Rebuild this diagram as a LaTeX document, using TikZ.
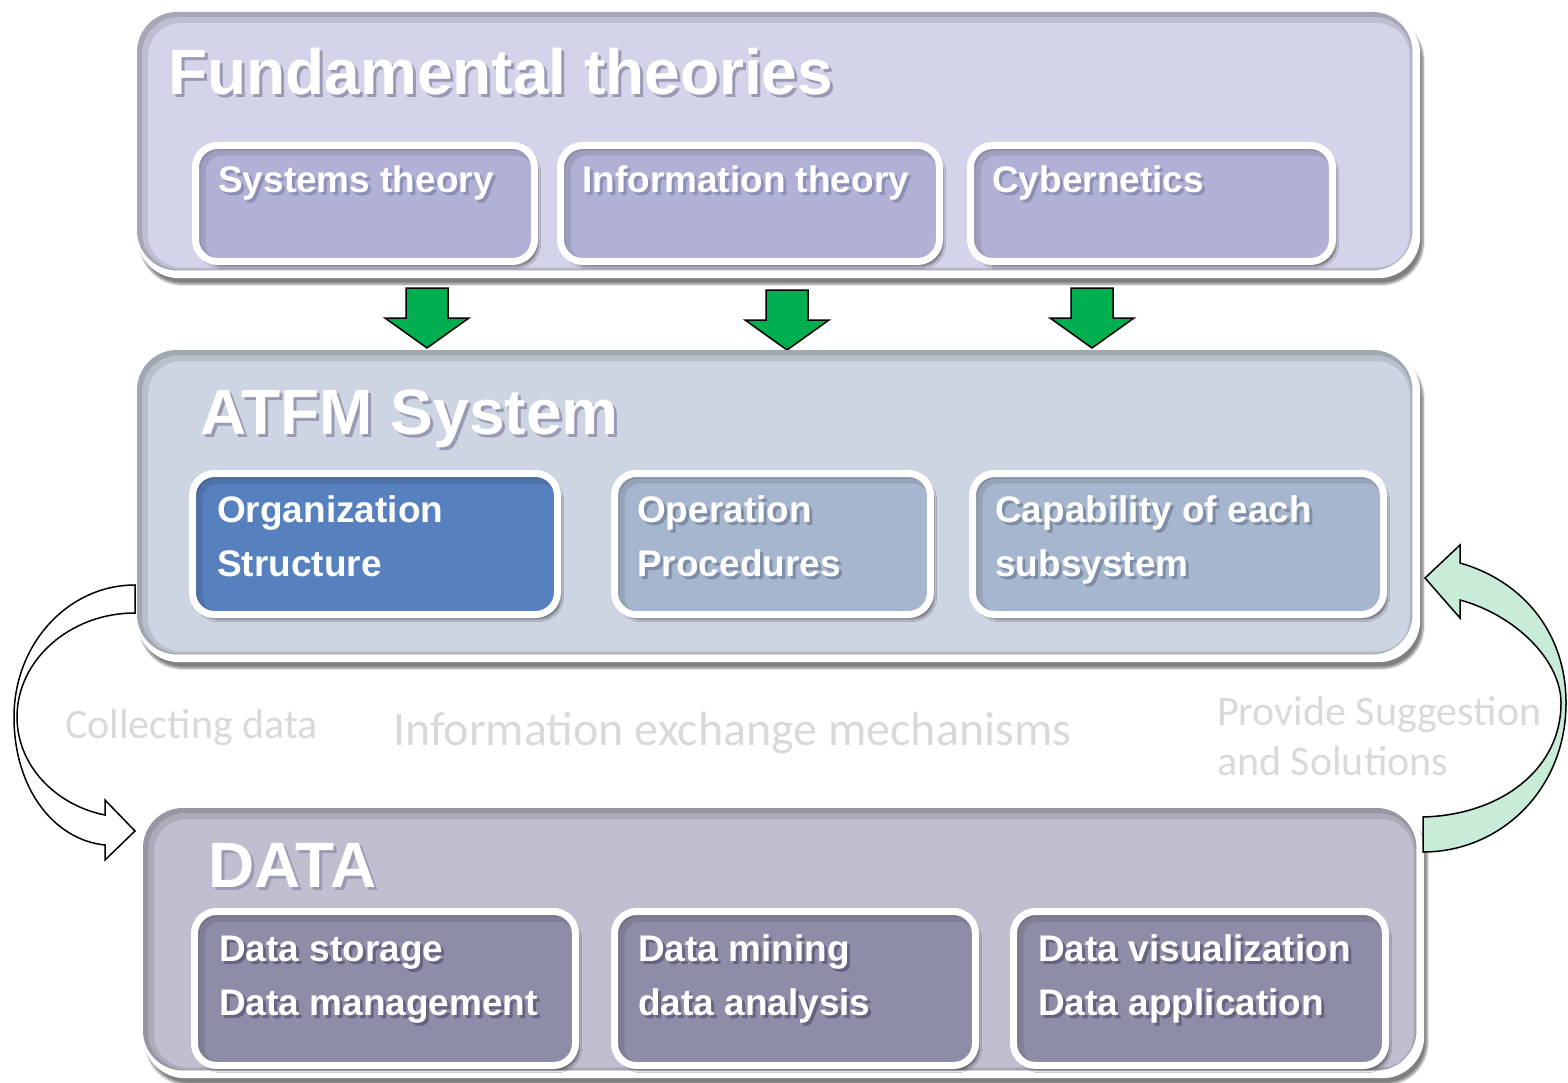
\documentclass[tikz,border=0pt]{standalone}
\usepackage{fontspec}
\setmainfont{Liberation Sans}
\newfontfamily\calfont{Carlito}
\usetikzlibrary{shadows.blur}
\definecolor{fundbg}{HTML}{D3D4E9}
\definecolor{fundin}{HTML}{B0B1D5}
\definecolor{fundsh}{HTML}{8E8FB4}
\definecolor{atfmbg}{HTML}{CDD5E2}
\definecolor{atfmin}{HTML}{A6B6CE}
\definecolor{atfmsh}{HTML}{7D8DA6}
\definecolor{orgblue}{HTML}{5680BE}
\definecolor{databg}{HTML}{C0BFCF}
\definecolor{datain}{HTML}{8E8DA8}
\definecolor{datash}{HTML}{646380}
\definecolor{titsh}{HTML}{9A9AB4}
\definecolor{labgrey}{HTML}{D9D9D9}
\definecolor{arrgreen}{HTML}{00B050}
\definecolor{lightgreen}{HTML}{C9ECD9}
\newcommand{\shd}[2]{\leavevmode\rlap{\kern3pt\raisebox{-3pt}{\textcolor{#1}{#2}}}#2}
\begin{document}
\begin{tikzpicture}[x=1pt,y=-1pt,
  backbox/.style={fill=white, rounded corners=42pt, anchor=north west, inner sep=0pt,
    blur shadow={shadow xshift=3pt, shadow yshift=-6pt, shadow blur steps=8, shadow opacity=50}},
  facebox/.style={rounded corners=40pt,
    path picture={
      \draw[line width=14pt, black, opacity=0.10, rounded corners=40pt]
        ([shift={(4,4)}]path picture bounding box.north west) rectangle ([shift={(4,4)}]path picture bounding box.south east);
      \draw[line width=6pt, black, opacity=0.12, rounded corners=40pt]
        ([shift={(2,2)}]path picture bounding box.north west) rectangle ([shift={(2,2)}]path picture bounding box.south east);
    }},
  innerbox/.style={draw=white, line width=7pt, rounded corners=22pt, anchor=north west, inner sep=0pt,
    blur shadow={shadow xshift=4pt, shadow yshift=-5pt, shadow blur steps=6, shadow opacity=45},
    path picture={
      \draw[line width=12pt, black, opacity=0.10, rounded corners=22pt]
        ([shift={(4,4)}]path picture bounding box.north west) rectangle ([shift={(4,4)}]path picture bounding box.south east);
      \draw[line width=6pt, black, opacity=0.10, rounded corners=22pt]
        ([shift={(2,2)}]path picture bounding box.north west) rectangle ([shift={(2,2)}]path picture bounding box.south east);
    }},
  title/.style={anchor=base west, inner sep=0pt, text=white, font=\bfseries\fontsize{64}{70}\selectfont},
  itext/.style={anchor=base west, inner sep=0pt, text=white, font=\bfseries\fontsize{37}{54}\selectfont},
  glab/.style={anchor=base west, inner sep=0pt, text=labgrey},
  garrow/.style={draw=black, line width=1.5pt, fill=arrgreen, line join=miter},
]
\useasboundingbox (0,0) rectangle (1568,1083);

% ---------- Fundamental theories ----------
\node[backbox, minimum width=1283pt, minimum height=266pt] (fund) at (137,12) {};
\path[facebox, fill=fundbg] (fund.north west) rectangle ([shift={(-8,-8)}]fund.south east);
\node[title] (fundt) at (168,95) {\shd{titsh}{Fundamental theories}};
\node[innerbox, fill=fundin, minimum width=339pt, minimum height=116pt] (sys) at (192,142) {};
\node[innerbox, fill=fundin, minimum width=379pt, minimum height=116pt] (inf) at (557,142) {};
\node[innerbox, fill=fundin, minimum width=362pt, minimum height=116pt] (cyb) at (967,142) {};
\node[itext] (syst) at (218,193) {\shd{fundsh}{Systems theory}};
\node[itext] (inft) at (582,193) {\shd{fundsh}{Information theory}};
\node[itext] (cybt) at (992,193) {\shd{fundsh}{Cybernetics}};

% ---------- green arrows ----------
\draw[garrow] (406,288) -- (448,288) -- (448,318) -- (469,318) -- (427,348) -- (385,318) -- (406,318) -- cycle;
\draw[garrow] (766,290) -- (808,290) -- (808,320) -- (829,320) -- (787,350) -- (745,320) -- (766,320) -- cycle;
\draw[garrow] (1071,288) -- (1113,288) -- (1113,318) -- (1134,318) -- (1092,348) -- (1050,318) -- (1071,318) -- cycle;

% ---------- ATFM System ----------
\node[backbox, minimum width=1283pt, minimum height=312pt] (atfm) at (137,350) {};
\path[facebox, fill=atfmbg] (atfm.north west) rectangle ([shift={(-8,-8)}]atfm.south east);
\node[title] (atfmt) at (200,434) {\shd{titsh}{ATFM System}};
\node[innerbox, fill=orgblue, minimum width=365pt, minimum height=141pt] (org) at (189,470) {};
\node[innerbox, fill=atfmin, minimum width=316pt, minimum height=141pt] (ope) at (611,470) {};
\node[innerbox, fill=atfmin, minimum width=411pt, minimum height=141pt] (cap) at (969,470) {};
\node[itext] (orgt1) at (217,522) {Organization};
\node[itext] (orgt2) at (217,576) {Structure};
\node[itext] (opet1) at (637,522) {\shd{atfmsh}{Operation}};
\node[itext] (opet2) at (637,576) {\shd{atfmsh}{Procedures}};
\node[itext] (capt1) at (995,522) {\shd{atfmsh}{Capability of each}};
\node[itext] (capt2) at (995,576) {\shd{atfmsh}{subsystem}};

% ---------- labels ----------
\node[glab, font=\calfont\fontsize{42}{50}\selectfont] (lcol) at (65,738) {Collecting data};
\node[glab, font=\calfont\fontsize{48}{56}\selectfont] (linf) at (393,745) {Information exchange mechanisms};
\node[glab, font=\calfont\fontsize{42}{50}\selectfont] (lpro1) at (1217,725) {Provide Suggestion};
\node[glab, font=\calfont\fontsize{42}{50}\selectfont] (lpro2) at (1217,775) {and Solutions};

% ---------- DATA ----------
\node[backbox, minimum width=1281pt, minimum height=270pt] (data) at (143,808) {};
\path[facebox, fill=databg] (data.north west) rectangle ([shift={(-8,-8)}]data.south east);
\node[title] (datat) at (208,887) {\shd{titsh}{DATA}};
\node[innerbox, fill=datain, minimum width=381pt, minimum height=154pt] (dst) at (191,908) {};
\node[innerbox, fill=datain, minimum width=361pt, minimum height=154pt] (dmi) at (611,908) {};
\node[innerbox, fill=datain, minimum width=372pt, minimum height=154pt] (dvi) at (1010,908) {};
\node[itext] (dstt1) at (219,961) {\shd{datash}{Data storage}};
\node[itext] (dstt2) at (219,1015) {\shd{datash}{Data management}};
\node[itext] (dmit1) at (638,961) {\shd{datash}{Data mining}};
\node[itext] (dmit2) at (638,1015) {\shd{datash}{data analysis}};
\node[itext] (dvit1) at (1038,961) {\shd{datash}{Data visualization}};
\node[itext] (dvit2) at (1038,1015) {\shd{datash}{Data application}};

% ---------- curved arrows ----------
\draw[black, line width=1.5pt, fill=white, line join=miter]
  (135,585) .. controls (68,585) and (14,644) .. (14,717)
  .. controls (14,790) and (55,840) .. (105,845)
  -- (105,860) -- (135,831) -- (105,800) -- (105,815)
  .. controls (55,805) and (17,765) .. (17,717)
  .. controls (17,660) and (70,613) .. (135,613) -- cycle;
\draw[black, line width=1.5pt, fill=lightgreen, line join=miter]
  (1423,852) .. controls (1500,852) and (1566,790) .. (1566,703)
  .. controls (1566,630) and (1520,580) .. (1460,563)
  -- (1460,545) -- (1425,578) -- (1460,618) -- (1460,600)
  .. controls (1515,615) and (1561,660) .. (1561,703)
  .. controls (1561,770) and (1500,815) .. (1423,817) -- cycle;
\end{tikzpicture}
\end{document}
